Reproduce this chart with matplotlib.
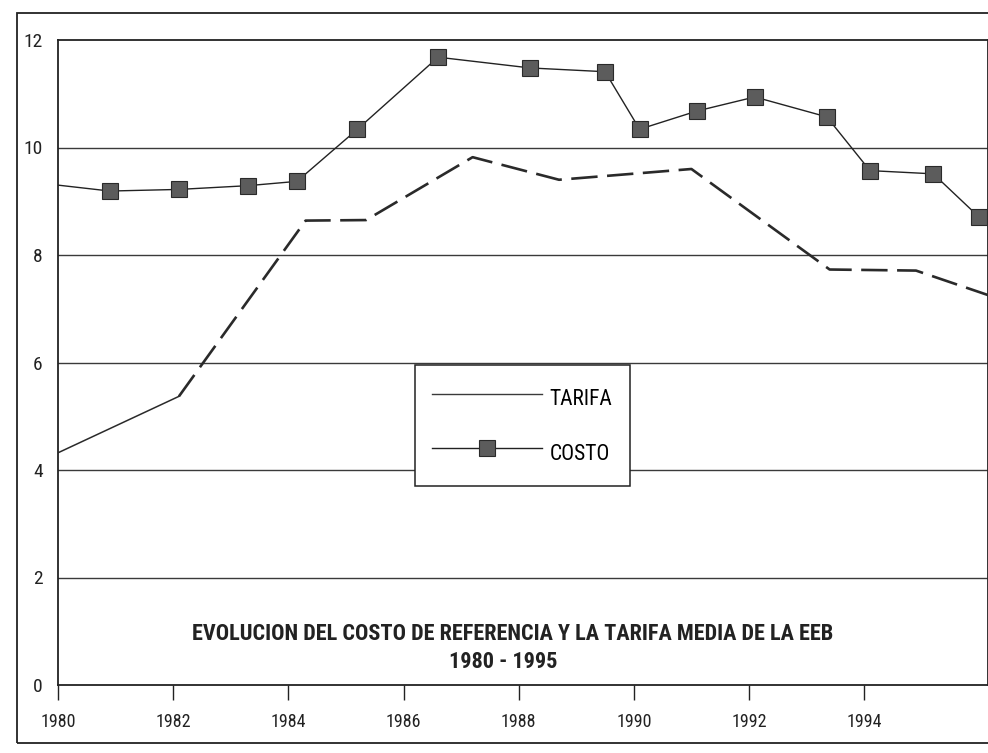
import matplotlib
matplotlib.use("Agg")
import matplotlib.pyplot as plt
from matplotlib.patches import Rectangle

REG = ['Roboto Condensed', 'Barlow Condensed', 'Archivo Narrow', 'DejaVu Sans']
BOLD = ['Roboto Condensed', 'Fira Sans Condensed', 'Archivo Narrow', 'DejaVu Sans']
plt.rcParams['font.family'] = REG

# ---- data ----
costo_x = [1980.0, 1980.9, 1982.1, 1983.3, 1984.15, 1985.2, 1986.6, 1988.2,
           1989.5, 1990.1, 1991.1, 1992.1, 1993.35, 1994.1, 1995.2, 1996.0]
costo_y = [9.30, 9.19, 9.22, 9.29, 9.37, 10.34, 11.68, 11.48,
           11.41, 10.34, 10.68, 10.94, 10.57, 9.57, 9.51, 8.70]
costo_marker_from = 1  # first value is the line's start at the axis, no marker

tarifa_x = [1980.0, 1982.1, 1984.3, 1985.35, 1987.2, 1988.7, 1991.0, 1993.4, 1994.9, 1996.3]
tarifa_y = [4.32, 5.37, 8.64, 8.65, 9.82, 9.40, 9.60, 7.73, 7.71, 7.20]

x_ticks = [1980, 1982, 1984, 1986, 1988, 1990, 1992, 1994]
y_ticks = [0, 2, 4, 6, 8, 10, 12]
title_1 = "EVOLUCION DEL COSTO DE REFERENCIA Y LA TARIFA MEDIA DE LA EEB"
title_2 = "1980 - 1995"

W, H = 988, 753
fig = plt.figure(figsize=(W / 100, H / 100), dpi=100)
fig.patch.set_facecolor('white')

# outer page frame
fig.patches.append(Rectangle((17 / W, 1 - 743 / H), 1.2, (743 - 13) / H,
                             transform=fig.transFigure, fill=False,
                             edgecolor='#222222', lw=1.3))

ax = fig.add_axes([58 / W, 1 - 685 / H, 930 / W, 645 / H])
ax.set_xlim(1980, 1996.15)
ax.set_ylim(0, 12)

for v in y_ticks[1:-1]:
    ax.axhline(v, color='#3a3a3a', lw=1.0, zorder=1)

# TARIFA: solid first segment, long dashes afterwards
ax.plot(tarifa_x[:2], tarifa_y[:2], color='#2a2a2a', lw=1.1, label='TARIFA', zorder=3)
ax.plot(tarifa_x[1:], tarifa_y[1:], color='#2a2a2a', lw=1.9, dashes=(10, 3.6), zorder=3)

# COSTO
ax.plot(costo_x, costo_y, color='#222222', lw=1.0, zorder=4)
ax.plot(costo_x[costo_marker_from:], costo_y[costo_marker_from:], ls='none',
        marker='s', markersize=11, markerfacecolor='#5c5c5c',
        markeredgecolor='#2a2a2a', markeredgewidth=0.8, zorder=5)
costo_handle, = ax.plot([], [], color='#222222', lw=1.0, marker='s', markersize=11,
                        markerfacecolor='#5c5c5c', markeredgecolor='#2a2a2a',
                        markeredgewidth=0.8, label='COSTO')

for s in ['left', 'bottom', 'top', 'right']:
    ax.spines[s].set_color('#222222')
    ax.spines[s].set_linewidth(1.3)

ax.set_xticks(x_ticks)
ax.set_xticklabels([str(t) for t in x_ticks], fontsize=13)
ax.set_yticks(y_ticks)
ax.set_yticklabels([str(t) for t in y_ticks], fontsize=14)
ax.tick_params(axis='x', direction='out', length=11, width=1.0, pad=9, colors='#222222')
ax.tick_params(axis='y', length=0, pad=11, colors='#222222')

handles = [ax.lines[0], costo_handle]
leg = ax.legend(handles=handles, labels=['TARIFA', 'COSTO'], loc='upper left',
                bbox_to_anchor=(0.384, 0.496), borderaxespad=0, fontsize=15.5,
                handlelength=5.1, handleheight=1.9, handletextpad=0.35,
                labelspacing=1.05, borderpad=0.8, numpoints=1,
                fancybox=False, frameon=True)
leg.get_frame().set_edgecolor('#222222')
leg.get_frame().set_linewidth(1.1)
leg.get_frame().set_facecolor('white')
leg.get_frame().set_alpha(1)
leg.set_zorder(10)

fig.text(513 / W, 1 - 634 / H, title_1, ha='center', va='center',
         fontsize=16, fontweight='bold', color='#222222', family=BOLD)
fig.text(503 / W, 1 - 662 / H, title_2, ha='center', va='center',
         fontsize=16, fontweight='bold', color='#222222', family=BOLD)

fig.savefig('out.png', dpi=100)
